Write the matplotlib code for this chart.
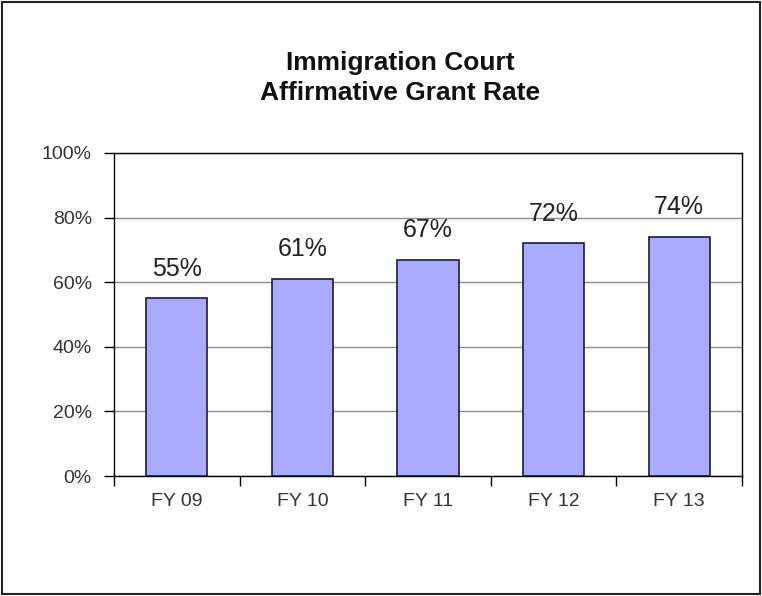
import numpy as np
import matplotlib.pyplot as plt
from matplotlib.patches import Rectangle

years = ['FY 09', 'FY 10', 'FY 11', 'FY 12', 'FY 13']
grant_rate = [55, 61, 67, 72, 74]
y_ticks = [0, 20, 40, 60, 80, 100]
y_labels = ['0%', '20%', '40%', '60%', '80%', '100%']

plt.rcParams['font.family'] = ['Liberation Sans', 'DejaVu Sans']

fig = plt.figure(figsize=(7.62, 5.96), dpi=100)
ax = fig.add_axes([0.1496, 0.2013, 0.8242, 0.542])

x = np.arange(len(years))
ax.bar(x, grant_rate, width=0.486, color='#aaaaff', edgecolor='#1a1a3a',
       linewidth=1.2, zorder=3)
for xi, v in zip(x, grant_rate):
    ax.text(xi, v + 7, f'{v}%', ha='center', va='baseline', fontsize=18,
            color='#222222', zorder=4)

ax.set_xlim(-0.5, len(years) - 0.5)
ax.set_ylim(0, 100)
ax.set_yticks(y_ticks)
ax.set_yticklabels(y_labels, fontsize=14, color='#333333')
ax.set_xticks(x)
ax.set_xticklabels(years, fontsize=14, color='#333333')
ax.tick_params(axis='x', which='major', length=0, pad=12)
ax.set_xticks(np.arange(-0.5, len(years)), minor=True)
ax.tick_params(axis='x', which='minor', length=7, width=1, direction='out')
ax.tick_params(axis='y', length=7, width=1, direction='out', pad=9)

ax.yaxis.grid(True, color='#8c8c8c', linewidth=1, zorder=0)
for s in ax.spines.values():
    s.set_color('black')
    s.set_linewidth(1)

fig.text(0.525, 0.8826, 'Immigration Court', ha='center', va='baseline',
         fontsize=19, fontweight='bold', color='#111111')
fig.text(0.525, 0.8322, 'Affirmative Grant Rate', ha='center', va='baseline',
         fontsize=19, fontweight='bold', color='#111111')

# outer frame around the whole figure
fig.patches.append(Rectangle((0.003, 0.003), 0.994, 0.994, transform=fig.transFigure,
                             fill=False, edgecolor='#222222', linewidth=1.5))

fig.savefig('out.png', dpi=100)
